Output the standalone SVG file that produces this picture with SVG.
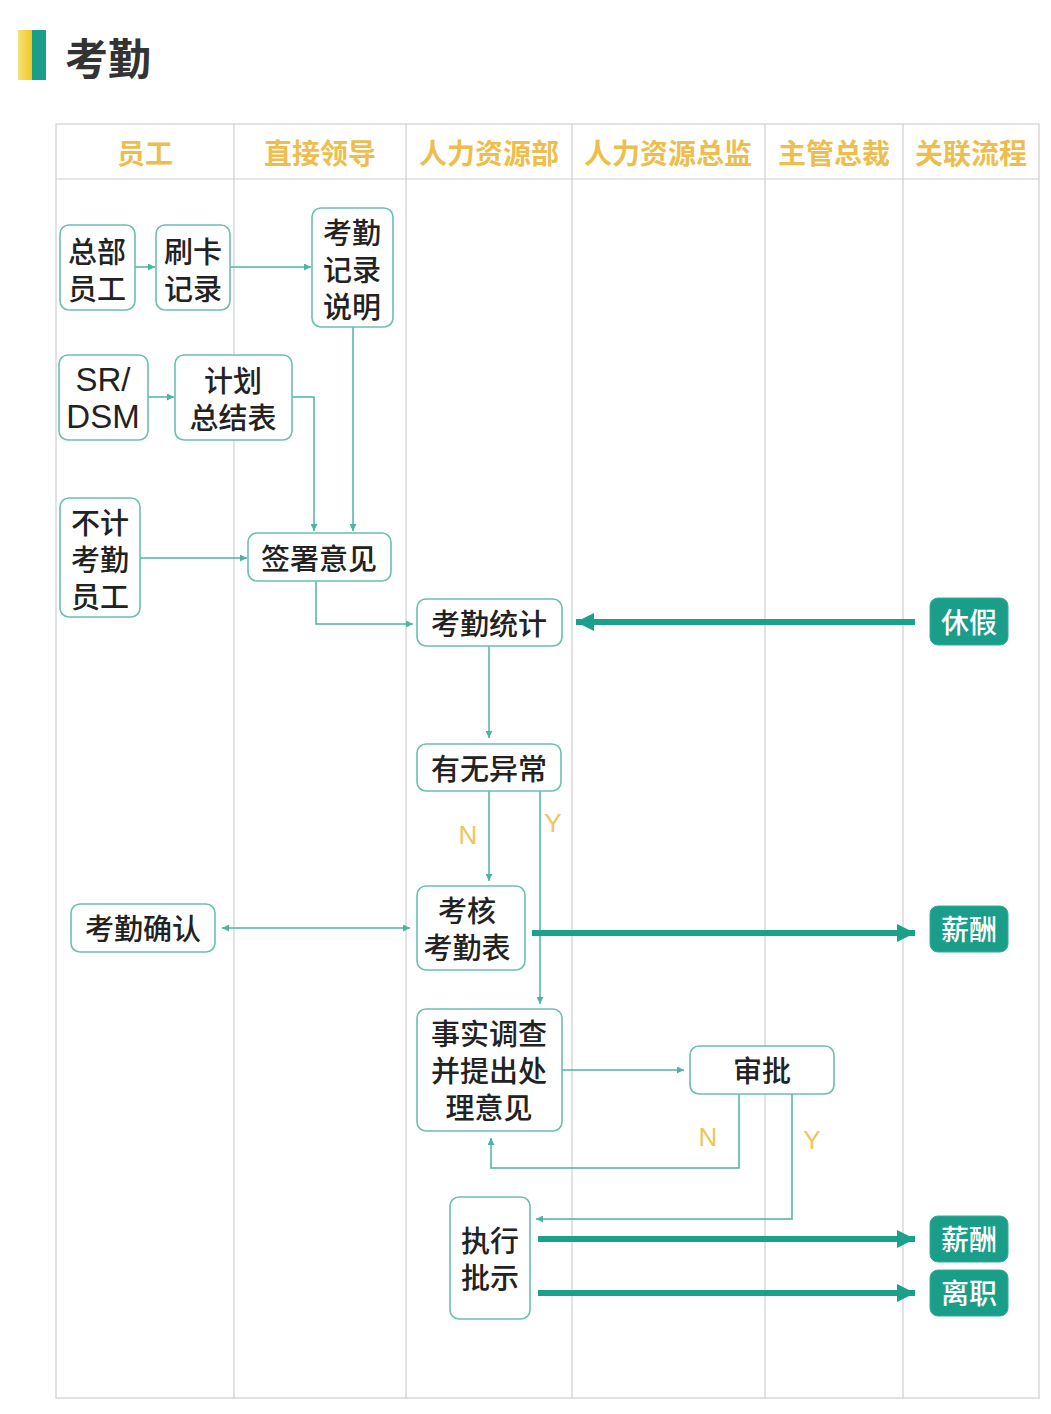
<svg xmlns="http://www.w3.org/2000/svg" width="1051" height="1414" viewBox="0 0 1051 1414">
<style>
.grid{stroke:#cfcfcf;stroke-width:1.2;fill:none}
.hd{font-family:"Noto Sans CJK SC",sans-serif;font-weight:bold;font-size:28px;fill:#EDBE4E;text-anchor:middle;dominant-baseline:central}
.box{fill:#fff;stroke:#6BBFB1;stroke-width:1.6}
.tb{fill:#1A9E89;stroke:#2FAE98;stroke-width:1}
.t{font-family:"Noto Sans CJK SC",sans-serif;font-weight:500;font-size:29px;fill:#222;text-anchor:middle;dominant-baseline:central}
.tw{font-family:"Noto Sans CJK SC",sans-serif;font-weight:500;font-size:28px;fill:#fff;text-anchor:middle;dominant-baseline:central}
.lat{font-family:"Liberation Sans",Arial,sans-serif;font-weight:normal;font-size:33px}
.thin{stroke:#4DB3A3;stroke-width:1.5;fill:none}
.thick{stroke:#1BA08B;stroke-width:6;fill:none}
.yn{font-family:"Liberation Sans",Arial,sans-serif;font-size:26px;fill:#EDC55E;text-anchor:middle;dominant-baseline:central}
</style>
<defs>
<marker id="a" viewBox="0 0 10 10" refX="10" refY="5" markerWidth="8" markerHeight="7" markerUnits="userSpaceOnUse" orient="auto-start-reverse">
<path d="M0,0 L10,5 L0,10 z" fill="#4DB3A3"/>
</marker>
<marker id="A" viewBox="0 0 10 10" refX="10" refY="5" markerWidth="18" markerHeight="18" markerUnits="userSpaceOnUse" orient="auto">
<path d="M0,0 L10,5 L0,10 z" fill="#1BA08B"/>
</marker>
<linearGradient id="yg" x1="0" y1="0" x2="1" y2="0">
<stop offset="0" stop-color="#F5E27A"/>
<stop offset="1" stop-color="#F2C81E"/>
</linearGradient>
</defs>
<rect x="0" y="0" width="1051" height="1414" fill="#fff"/>
<g id="title">
<rect x="18" y="30" width="14" height="50" fill="url(#yg)"/>
<rect x="32" y="30" width="14" height="50" fill="#1A9E8A"/>
<text x="65" y="56" font-family="'Noto Sans CJK SC',sans-serif" font-weight="bold" font-size="43" fill="#333" dominant-baseline="central">考勤</text>
</g>
<g id="table">
<rect class="grid" x="56" y="124" width="983" height="1274"/>
<line class="grid" x1="56" y1="179" x2="1039" y2="179"/>
<line class="grid" x1="234" y1="124" x2="234" y2="1398"/>
<line class="grid" x1="406" y1="124" x2="406" y2="1398"/>
<line class="grid" x1="572" y1="124" x2="572" y2="1398"/>
<line class="grid" x1="765" y1="124" x2="765" y2="1398"/>
<line class="grid" x1="903" y1="124" x2="903" y2="1398"/>
<text class="hd" x="145" y="152">员工</text>
<text class="hd" x="320" y="152">直接领导</text>
<text class="hd" x="489" y="152">人力资源部</text>
<text class="hd" x="668" y="152">人力资源总监</text>
<text class="hd" x="834" y="152">主管总裁</text>
<text class="hd" x="971" y="152">关联流程</text>
</g>
<g id="connectors">
<line class="thin" x1="135" y1="267" x2="155" y2="267" marker-end="url(#a)"/>
<line class="thin" x1="230" y1="267" x2="311" y2="267" marker-end="url(#a)"/>
<line class="thin" x1="148" y1="397" x2="174" y2="397" marker-end="url(#a)"/>
<polyline class="thin" points="292,397 314,397 314,531" marker-end="url(#a)"/>
<line class="thin" x1="353" y1="327" x2="353" y2="531" marker-end="url(#a)"/>
<line class="thin" x1="140" y1="558" x2="247" y2="558" marker-end="url(#a)"/>
<polyline class="thin" points="316,581 316,624 413,624" marker-end="url(#a)"/>
<line class="thick" x1="915" y1="622" x2="576" y2="622" marker-end="url(#A)"/>
<line class="thin" x1="489" y1="646" x2="489" y2="738" marker-end="url(#a)"/>
<line class="thin" x1="489" y1="791" x2="489" y2="881" marker-end="url(#a)"/>
<line class="thin" x1="540" y1="791" x2="540" y2="1004" marker-end="url(#a)"/>
<line class="thin" x1="222" y1="928" x2="410" y2="928" marker-start="url(#a)" marker-end="url(#a)"/>
<line class="thick" x1="532" y1="933" x2="915" y2="933" marker-end="url(#A)"/>
<line class="thin" x1="562" y1="1070" x2="684" y2="1070" marker-end="url(#a)"/>
<polyline class="thin" points="739,1094 739,1168 491,1168 491,1138" marker-end="url(#a)"/>
<polyline class="thin" points="792,1094 792,1219 536,1219" marker-end="url(#a)"/>
<line class="thick" x1="538" y1="1239" x2="915" y2="1239" marker-end="url(#A)"/>
<line class="thick" x1="538" y1="1293" x2="915" y2="1293" marker-end="url(#A)"/>
<text class="yn" x="468" y="835">N</text>
<text class="yn" x="553" y="823">Y</text>
<text class="yn" x="708" y="1137">N</text>
<text class="yn" x="812" y="1140">Y</text>
</g>
<g id="n1"><rect class="box" x="60" y="225" width="75" height="85" rx="9"/><text class="t" x="97" y="250">总部</text><text class="t" x="97" y="287">员工</text></g>
<g id="n2"><rect class="box" x="156" y="225" width="74" height="85" rx="9"/><text class="t" x="193" y="250">刷卡</text><text class="t" x="193" y="287">记录</text></g>
<g id="n3"><rect class="box" x="312" y="208" width="81" height="119" rx="9"/><text class="t" x="352" y="231">考勤</text><text class="t" x="352" y="268">记录</text><text class="t" x="352" y="305">说明</text></g>
<g id="n4"><rect class="box" x="59" y="355" width="89" height="85" rx="9"/><text class="t lat" x="103" y="379">SR/</text><text class="t lat" x="103" y="416">DSM</text></g>
<g id="n5"><rect class="box" x="175" y="355" width="117" height="85" rx="9"/><text class="t" x="233" y="379">计划</text><text class="t" x="233" y="416">总结表</text></g>
<g id="n6"><rect class="box" x="60" y="498" width="80" height="119" rx="9"/><text class="t" x="100" y="521">不计</text><text class="t" x="100" y="558">考勤</text><text class="t" x="100" y="595">员工</text></g>
<g id="n7"><rect class="box" x="248" y="533" width="143" height="48" rx="9"/><text class="t" x="319" y="557">签署意见</text></g>
<g id="n8"><rect class="box" x="417" y="599" width="145" height="47" rx="9"/><text class="t" x="489" y="622">考勤统计</text></g>
<g id="n9"><rect class="tb" x="930" y="598" width="78" height="47" rx="8"/><text class="tw" x="969" y="621">休假</text></g>
<g id="n10"><rect class="box" x="417" y="744" width="144" height="47" rx="9"/><text class="t" x="489" y="767">有无异常</text></g>
<g id="n11"><rect class="box" x="417" y="886" width="108" height="84" rx="9"/><text class="t" x="467" y="909">考核</text><text class="t" x="467" y="946">考勤表</text></g>
<g id="n12"><rect class="box" x="71" y="904" width="144" height="48" rx="9"/><text class="t" x="143" y="927">考勤确认</text></g>
<g id="n13"><rect class="tb" x="930" y="906" width="78" height="46" rx="8"/><text class="tw" x="969" y="928">薪酬</text></g>
<g id="n14"><rect class="box" x="417" y="1009" width="145" height="122" rx="9"/><text class="t" x="489" y="1032">事实调查</text><text class="t" x="489" y="1069">并提出处</text><text class="t" x="489" y="1106">理意见</text></g>
<g id="n15"><rect class="box" x="690" y="1046" width="144" height="48" rx="9"/><text class="t" x="762" y="1069">审批</text></g>
<g id="n16"><rect class="box" x="450" y="1197" width="80" height="122" rx="9"/><text class="t" x="490" y="1239">执行</text><text class="t" x="490" y="1276">批示</text></g>
<g id="n17"><rect class="tb" x="930" y="1216" width="78" height="46" rx="8"/><text class="tw" x="969" y="1238">薪酬</text></g>
<g id="n18"><rect class="tb" x="930" y="1270" width="78" height="46" rx="8"/><text class="tw" x="969" y="1292">离职</text></g>
</svg>
